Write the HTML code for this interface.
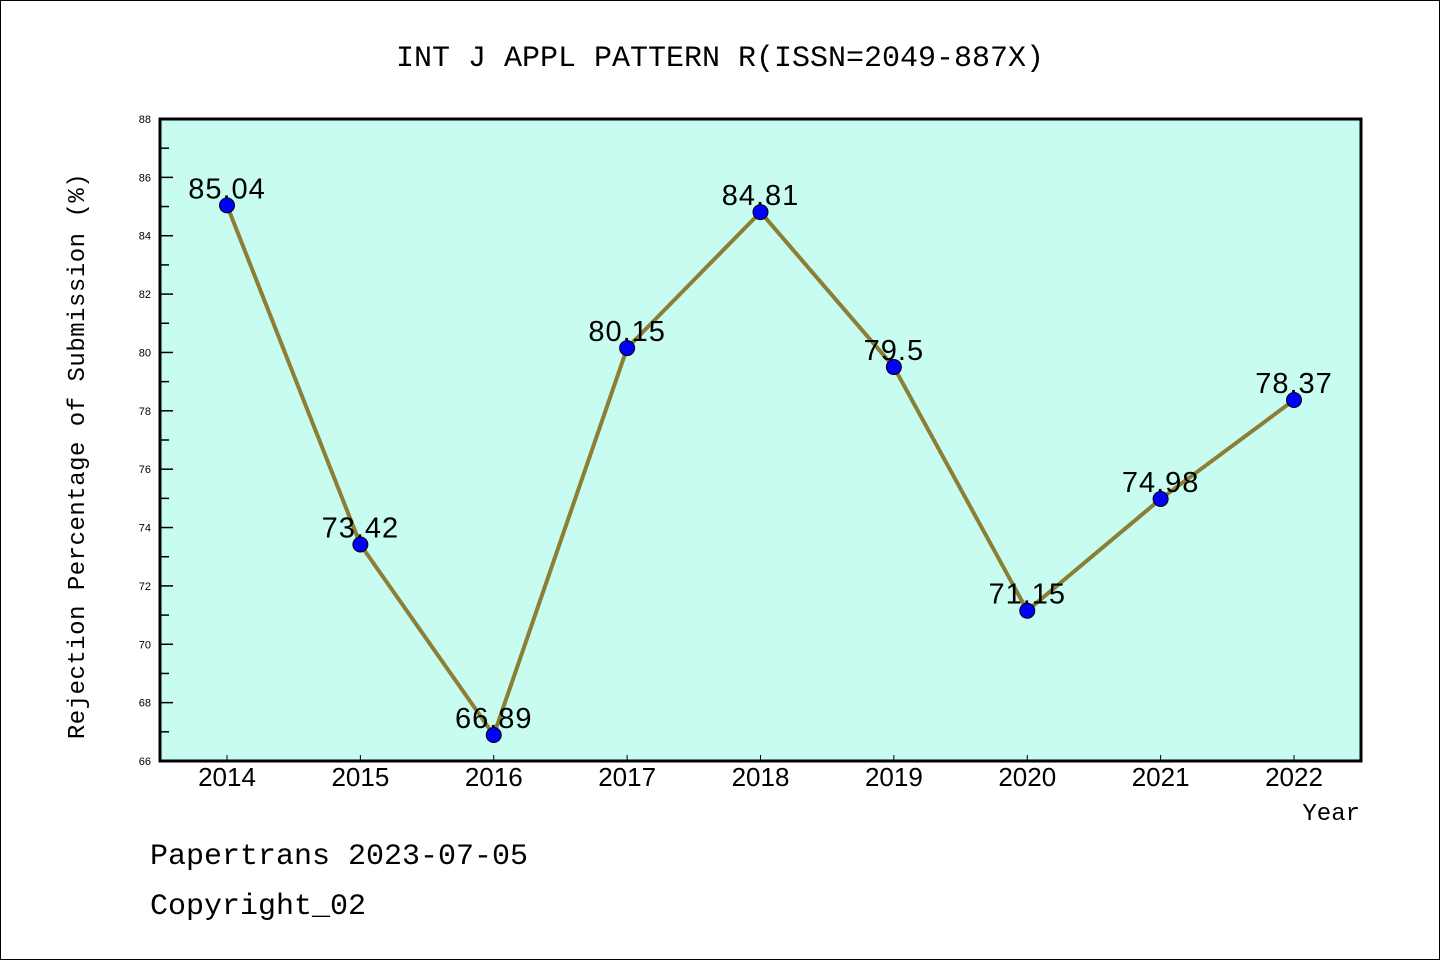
<!DOCTYPE html>
<html><head><meta charset="utf-8"><style>
html,body{margin:0;padding:0;background:#fff}
svg{display:block}
.mono{font-family:"Liberation Mono","DejaVu Sans Mono",monospace}
.sans{font-family:"Liberation Sans",sans-serif}
.ytl{font-family:"Liberation Sans",sans-serif;font-size:11px}
</style></head><body>
<svg id="chart" width="1440" height="960">
<rect x="0.5" y="0.5" width="1439" height="959" fill="#fff" stroke="#000" stroke-width="1"/>
<text class="mono" x="720" y="66" text-anchor="middle" font-size="30">INT J APPL PATTERN R(ISSN=2049-887X)</text>
<rect x="160" y="119" width="1201" height="642" fill="#c8fcf0"/>
<g id="yaxis"></g>
<g id="xaxis"></g>
<g id="series"></g>
<rect x="160" y="119" width="1201" height="642" fill="none" stroke="#000" stroke-width="3"/>
<text class="mono" transform="translate(84,456) rotate(-90)" text-anchor="middle" font-size="24" letter-spacing="0.5">Rejection Percentage of Submission (%)</text>
<text class="mono" x="1360" y="820" text-anchor="end" font-size="24">Year</text>
<text class="mono" x="150" y="864" font-size="30">Papertrans 2023-07-05</text>
<text class="mono" x="150" y="914" font-size="30">Copyright_02</text>
</svg>
<script>
const years = [2014,2015,2016,2017,2018,2019,2020,2021,2022];
const values = [85.04,73.42,66.89,80.15,84.81,79.5,71.15,74.98,78.37];
const labels = ["85.04","73.42","66.89","80.15","84.81","79.5","71.15","74.98","78.37"];
const yTicks = [66,68,70,72,74,76,78,80,82,84,86,88];
const NS="http://www.w3.org/2000/svg";
const X0=160,X1=1361,Y0=761,Y1=119;
const xs=y=>227+(y-2014)*(1294-227)/8;
const ys=v=>Y0-(v-66)*(Y0-Y1)/22;
function mk(tag,attrs,parent){const e=document.createElementNS(NS,tag);for(const k in attrs)e.setAttribute(k,attrs[k]);parent.appendChild(e);return e;}
const ya=document.getElementById('yaxis'),xa=document.getElementById('xaxis'),sg=document.getElementById('series');
yTicks.forEach(t=>{
  const y=ys(t);
  const l=mk('line',{x1:X0,x2:X0+13,y1:y,y2:y,stroke:'#000','stroke-width':1.5},ya);
  
  
  const tx=mk('text',{x:151,y:y+4,'text-anchor':'end','class':'ytl'},ya);
  tx.textContent=t;
  
  
  if(t<88){const m=ys(t+1);
    const ml=mk('line',{x1:X0,x2:X0+9,y1:m,y2:m,stroke:'#000','stroke-width':1.5},ya);
    
    }
});
years.forEach(yr=>{
  const x=xs(yr);
  const l=mk('line',{x1:x,x2:x,y1:Y0-6,y2:Y0,stroke:'#000','stroke-width':1},xa);
  
  
  const tx=mk('text',{x:x,y:Y0+25,'text-anchor':'middle','font-size':26,'class':'sans'},xa);
  tx.textContent=yr;
  
  
});
const pts=years.map((yr,i)=>xs(yr)+','+ys(values[i])).join(' ');
const pl=mk('polyline',{points:pts,fill:'none',stroke:'#8c7f35','stroke-width':4,'stroke-linejoin':'round'},sg);


years.forEach((yr,i)=>{
  const c=mk('circle',{cx:xs(yr),cy:ys(values[i]),r:7.5,fill:'#0000ff',stroke:'#000','stroke-width':1},sg);
  
  
  const t=mk('text',{x:xs(yr),y:ys(values[i])-7,'text-anchor':'middle','font-size':29,'letter-spacing':1,'class':'sans'},sg);
  t.textContent=labels[i];
  
  
});
</script>
</body></html>
